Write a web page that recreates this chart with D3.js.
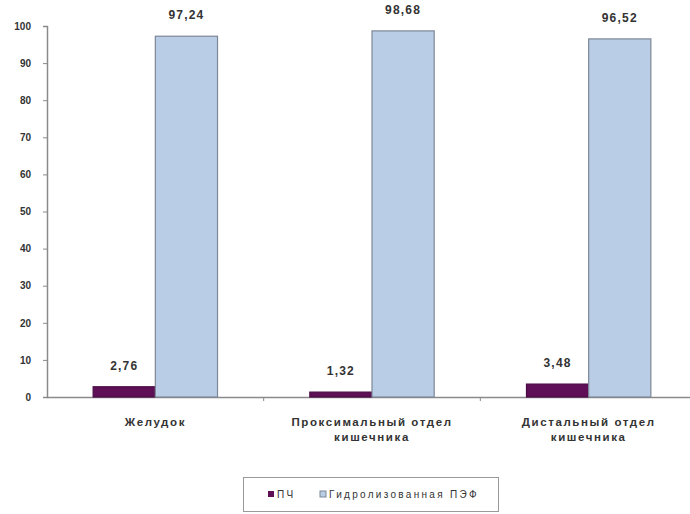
<!DOCTYPE html>
<html>
<head>
<meta charset="utf-8">
<script src="https://cdn.jsdelivr.net/npm/d3@7"></script>
<style>
  html, body { margin: 0; padding: 0; background: #fff; }
  svg { display: block; font-family: "Liberation Sans", Arial, sans-serif; }
</style>
</head>
<body>
<svg id="chart" width="690" height="514"></svg>
<script>
// Categories (parts of the digestive tract), two lines each
const categories = [
  ["Желудок"],
  ["Проксимальный отдел", "кишечника"],
  ["Дистальный отдел", "кишечника"]
];
const seriesNames = ["ПЧ", "Гидролизованная ПЭФ"];
const valuesPCh = [2.76, 1.32, 3.48];
const valuesPEF = [97.24, 98.68, 96.52];
const labelsPCh = ["2,76", "1,32", "3,48"];
const labelsPEF = ["97,24", "98,68", "96,52"];
const yTicks = [0, 10, 20, 30, 40, 50, 60, 70, 80, 90, 100];
const colors = ["#5e0f55", "#b9cde6"];

const svg = d3.select("#chart");
const margin = { left: 47, top: 26, bottom: 397 };
const plotRight = 697;

const x = d3.scaleBand()
  .domain(d3.range(categories.length))
  .range([margin.left, plotRight])
  .paddingInner(0).paddingOuter(0);

const y = d3.scaleLinear().domain([0, 100]).range([margin.bottom, margin.top]);

const barW = x.bandwidth() * 0.287;
const inner = d3.scaleBand().domain([0, 1]).range([0, barW * 2]);

// Y axis
const yAxis = svg.append("g")
  .attr("transform", `translate(${margin.left},0)`)
  .call(d3.axisLeft(y).tickValues(yTicks).tickSize(4).tickPadding(12).tickFormat(d3.format("d")));
yAxis.select(".domain").attr("stroke", "#8a8a8a").attr("stroke-width", 1.5);
yAxis.selectAll(".tick line").attr("stroke", "#8a8a8a");
yAxis.selectAll(".tick text").attr("fill", "#333").attr("font-size", 10).attr("font-weight", "bold");

// X axis
const xAxis = svg.append("g")
  .attr("transform", `translate(0,${margin.bottom})`)
  .call(d3.axisBottom(x).tickValues([]).tickSizeOuter(0));
xAxis.select(".domain").attr("stroke", "#8a8a8a").attr("stroke-width", 1.5);
// category boundary ticks
svg.append("g").selectAll("line")
  .data(d3.range(1, categories.length))
  .join("line")
  .attr("x1", d => x(d)).attr("x2", d => x(d))
  .attr("y1", margin.bottom).attr("y2", margin.bottom + 4)
  .attr("stroke", "#8a8a8a");

// Bars
const groups = svg.append("g").selectAll("g")
  .data(d3.range(categories.length))
  .join("g")
  .attr("transform", i => `translate(${x(i) + x.bandwidth() / 2 - barW},0)`);

const seriesVals = [valuesPCh, valuesPEF];
const seriesLabels = [labelsPCh, labelsPEF];

groups.each(function(i) {
  const g = d3.select(this);
  [0, 1].forEach(s => {
    const v = seriesVals[s][i];
    g.append("rect")
      .attr("x", inner(s))
      .attr("y", y(v))
      .attr("width", inner.bandwidth())
      .attr("height", y(0) - y(v))
      .attr("fill", colors[s])
      .attr("stroke", s === 1 ? "#7d8797" : "#4a0a44")
      .attr("stroke-width", 1.2);
    g.append("text")
      .attr("x", inner(s) + inner.bandwidth() / 2)
      .attr("y", y(v) - 17)
      .attr("text-anchor", "middle")
      .attr("font-size", 12)
      .attr("font-weight", "bold")
      .attr("letter-spacing", 1.2)
      .attr("fill", "#333")
      .text(seriesLabels[s][i]);
  });
});

// Category labels
svg.append("g").selectAll("text")
  .data(categories)
  .join("text")
  .attr("x", (d, i) => x(i) + x.bandwidth() / 2)
  .attr("y", 426)
  .attr("text-anchor", "middle")
  .attr("font-size", 11.5)
  .attr("font-weight", "bold")
  .attr("letter-spacing", 1.6)
  .attr("fill", "#333")
  .each(function(lines) {
    d3.select(this).selectAll("tspan")
      .data(lines)
      .join("tspan")
      .attr("x", d3.select(this).attr("x"))
      .attr("dy", (d, k) => k === 0 ? 0 : 15)
      .text(d => d);
  });

// Legend
const legend = svg.append("g");
legend.append("rect")
  .attr("x", 243.5).attr("y", 477.5).attr("width", 255).attr("height", 34)
  .attr("fill", "#fff").attr("stroke", "#999");
const legendX = [268, 320];
seriesNames.forEach((name, s) => {
  legend.append("rect")
    .attr("x", legendX[s]).attr("y", 491).attr("width", 6).attr("height", 6)
    .attr("fill", colors[s]).attr("stroke", s === 1 ? "#7d8797" : "none");
  legend.append("text")
    .attr("x", legendX[s] + 9).attr("y", 498)
    .attr("font-size", 10)
    .attr("letter-spacing", 2.3)
    .attr("fill", "#333")
    .text(name);
});
</script>
</body>
</html>
